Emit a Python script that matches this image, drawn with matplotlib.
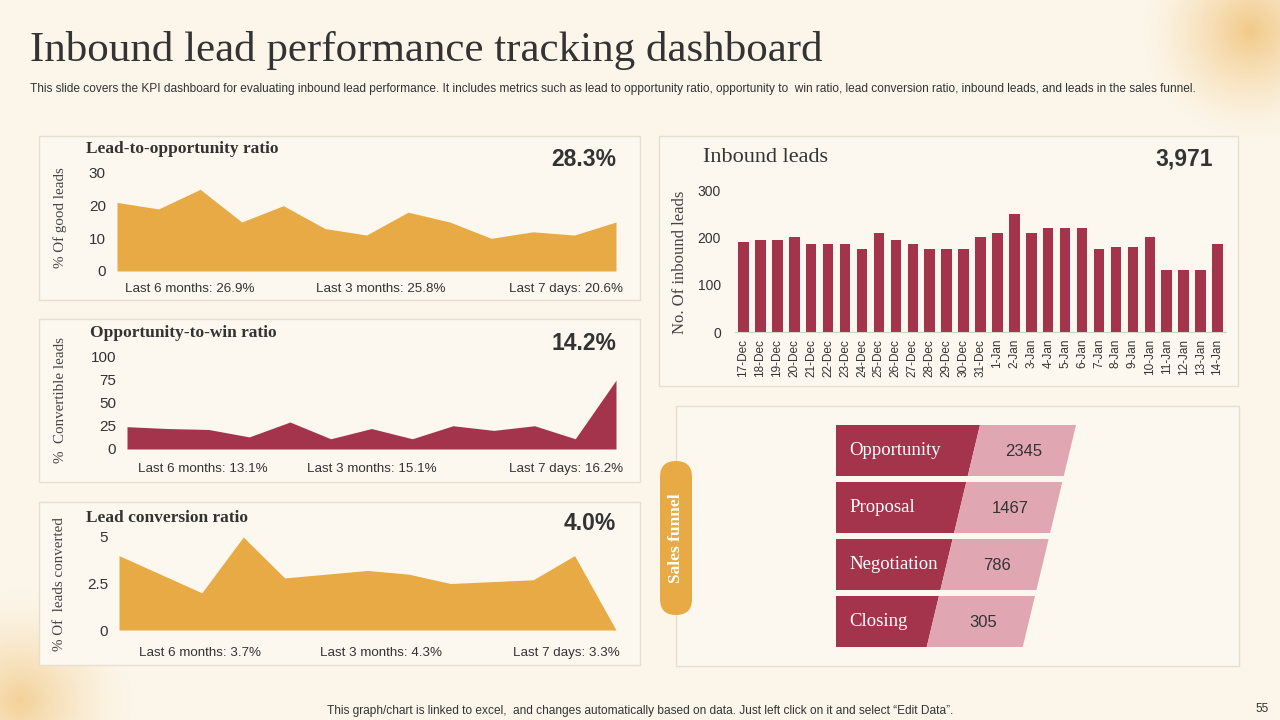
import numpy as np
import matplotlib.pyplot as plt
from matplotlib.patches import Rectangle, Polygon, FancyBboxPatch

# ---- data ----
lead_opp = [21, 19, 25, 15, 20, 13, 11, 18, 15, 10, 12, 11, 15]
opp_win = [24, 22, 21, 13, 29, 11, 22, 11, 25, 20, 25, 11, 74]
lead_conv = [4.0, 3.0, 2.0, 5.0, 2.8, 3.0, 3.2, 3.0, 2.5, 2.6, 2.7, 4.0, 0.0]

days = ['17-Dec', '18-Dec', '19-Dec', '20-Dec', '21-Dec', '22-Dec', '23-Dec', '24-Dec',
        '25-Dec', '26-Dec', '27-Dec', '28-Dec', '29-Dec', '30-Dec', '31-Dec', '1-Jan',
        '2-Jan', '3-Jan', '4-Jan', '5-Jan', '6-Jan', '7-Jan', '8-Jan', '9-Jan', '10-Jan',
        '11-Jan', '12-Jan', '13-Jan', '14-Jan']
inbound = [190, 195, 195, 200, 185, 185, 185, 175, 210, 195, 185, 175, 175, 175, 200,
           210, 250, 210, 220, 220, 220, 175, 180, 180, 200, 130, 130, 130, 185]

stages = ['Opportunity', 'Proposal', 'Negotiation', 'Closing']
stage_vals = [2345, 1467, 786, 305]

kpi_big = ['28.3%', '14.2%', '4.0%']
kpi_sub = [['Last 6 months: 26.9%', 'Last 3 months: 25.8%', 'Last 7 days: 20.6%'],
           ['Last 6 months: 13.1%', 'Last 3 months: 15.1%', 'Last 7 days: 16.2%'],
           ['Last 6 months: 3.7%', 'Last 3 months: 4.3%', 'Last 7 days: 3.3%']]

BG = '#FCF6EA'
ORANGE = '#E8AA45'
CRIMSON = '#A3344C'
PINK = '#E0A6B1'
DARK = '#333333'
SERIF = ['Liberation Serif', 'DejaVu Serif']
SANS = ['Liberation Sans Narrow', 'Liberation Sans', 'DejaVu Sans']

W, H = 1280, 720
fig = plt.figure(figsize=(12.8, 7.2), dpi=100, facecolor=BG)


def px_axes(x0, y0, x1, y1):
    return fig.add_axes([x0 / W, 1 - y1 / H, (x1 - x0) / W, (y1 - y0) / H])


# background layer in pixel coordinates
bg = fig.add_axes([0, 0, 1, 1])
bg.set_xlim(0, W)
bg.set_ylim(H, 0)
bg.axis('off')
bg.set_facecolor(BG)

# soft orange glows in corners
yy, xx = np.mgrid[0:H, 0:W]
glow = np.zeros((H, W, 4))
glow[..., :3] = np.array([235, 172, 70]) / 255
d1 = np.hypot(xx - 1250, yy - 30) / 110
d2 = np.hypot(xx - 20, yy - 700) / 115
glow[..., 3] = 0.6 * np.clip(1 - d1, 0, 1) ** 1.4 + 0.5 * np.clip(1 - d2, 0, 1) ** 1.5
bg.imshow(glow, extent=(0, W, H, 0), zorder=0)

# panels
for (x0, y0, x1, y1) in [(39, 136, 640, 300), (39, 319, 640, 482), (39, 502, 640, 665),
                         (659, 136, 1238, 386), (676, 406, 1239, 666)]:
    bg.add_patch(Rectangle((x0, y0), x1 - x0, y1 - y0, facecolor='#FDF8EF',
                           edgecolor='#E6DED0', lw=1, zorder=1))

bg.text(30, 50, 'Inbound lead performance tracking dashboard', family=SERIF,
        fontsize=31, color=DARK, va='center', ha='left')
bg.text(30, 89, 'This slide covers the KPI dashboard for evaluating inbound lead performance. '
        'It includes metrics such as lead to opportunity ratio, opportunity to  win ratio, '
        'lead conversion ratio, inbound leads, and leads in the sales funnel.',
        family=SANS, fontsize=8.6, color=DARK, va='center', ha='left')
bg.text(640, 711, 'This graph/chart is linked to excel,  and changes automatically based on data. '
        'Just left click on it and select \u201cEdit Data\u201d.',
        family=SANS, fontsize=8.6, color=DARK, va='center', ha='center')
bg.text(1262, 709, '55', family=SANS, fontsize=8.5, color=DARK, va='center', ha='center')

# ---- area charts ----
area_specs = [
    (lead_opp, ORANGE, (117, 173, 616, 271), 30, [0, 10, 20, 30],
     'Lead-to-opportunity ratio', (86, 149), 159, '% Of good leads', 218, 289, [190, 381, 566]),
    (opp_win, CRIMSON, (127, 356, 616, 449), 100, [0, 25, 50, 75, 100],
     'Opportunity-to-win ratio', (90, 333), 343, '%  Convertible leads', 400, 469, [203, 372, 566]),
    (lead_conv, ORANGE, (119, 537, 616, 630), 5, [0, 2.5, 5],
     'Lead conversion ratio', (86, 518), 524, '% Of  leads converted', 584, 653, [200, 381, 566]),
]

for i, (vals, col, box, ymax, ticks, title, tpos, big_y, ylab, ylab_y, sub_y, sub_x) in enumerate(area_specs):
    ax = px_axes(*box)
    x = np.arange(len(vals))
    ax.fill_between(x, vals, 0, color=col, lw=0)
    ax.set_xlim(0, len(vals) - 1)
    ax.set_ylim(0, ymax)
    ax.set_yticks(ticks)
    ax.set_yticklabels([f'{t:g}' for t in ticks], family=SANS, fontsize=11, color=DARK)
    ax.set_xticks([])
    ax.tick_params(axis='y', length=0, pad=8)
    for s in ax.spines.values():
        s.set_visible(False)
    ax.patch.set_alpha(0)
    bg.text(tpos[0], tpos[1], title, family=SERIF, fontsize=12.5, fontweight='bold',
            color=DARK, va='center', ha='left')
    bg.text(616, big_y, kpi_big[i], family=['Liberation Sans', 'DejaVu Sans'], fontsize=16.5,
            fontweight='bold', color=DARK, va='center', ha='right')
    bg.text(60, ylab_y, ylab, family=SERIF, fontsize=10.8, color='#444444', rotation=90,
            va='center', ha='center')
    for sx, st in zip(sub_x, kpi_sub[i]):
        bg.text(sx, sub_y, st, family=SANS, fontsize=9.6, color=DARK, va='center', ha='center')

# ---- bar chart ----
axb = px_axes(735, 190, 1226, 332)
axb.bar(np.arange(len(inbound)), inbound, width=0.62, color=CRIMSON)
axb.set_xlim(-0.5, len(inbound) - 0.5)
axb.set_ylim(0, 300)
axb.set_yticks([0, 100, 200, 300])
axb.set_yticklabels(['0', '100', '200', '300'], family=SANS, fontsize=10, color=DARK)
axb.set_xticks(np.arange(len(days)))
axb.set_xticklabels(days, rotation=90, family=SANS, fontsize=8.5, color=DARK)
axb.tick_params(length=0, pad=5)
axb.tick_params(axis='y', pad=10)
for s in ['top', 'right', 'left']:
    axb.spines[s].set_visible(False)
axb.spines['bottom'].set_color('#D9D2C6')
axb.patch.set_alpha(0)
bg.text(703, 158, 'Inbound leads', family=SERIF, fontsize=16, color=DARK,
        va='center', ha='left')
bg.text(1213, 159, '3,971', family=['Liberation Sans', 'DejaVu Sans'], fontsize=16.5,
        fontweight='bold', color=DARK, va='center', ha='right')
bg.text(680, 262, 'No. Of inbound leads', family=SERIF, fontsize=12, color='#444444',
        rotation=90, va='center', ha='center')

# ---- sales funnel ----
bg.add_patch(FancyBboxPatch((660, 461), 32, 154, boxstyle='round,pad=0,rounding_size=16',
                            facecolor=ORANGE, edgecolor='none', zorder=2))
bg.text(676, 538, 'Sales funnel', family=SERIF, fontsize=12.5, fontweight='bold',
        color='white', rotation=90, va='center', ha='center', zorder=3)

slope = 0.24
left, top0, row_h, gap = 836, 425, 51, 6
for i, (name, v) in enumerate(zip(stages, stage_vals)):
    yt = top0 + i * (row_h + gap)
    yb = yt + row_h
    mid_t = 980 - slope * (yt - top0)
    mid_b = 980 - slope * (yb - top0)
    rt = 1076 - slope * (yt - top0)
    rb = 1076 - slope * (yb - top0)
    bg.add_patch(Polygon([(left, yt), (mid_t, yt), (mid_b, yb), (left, yb)],
                         closed=True, facecolor=CRIMSON, edgecolor='none', zorder=2))
    bg.add_patch(Polygon([(mid_t, yt), (rt, yt), (rb, yb), (mid_b, yb)],
                         closed=True, facecolor=PINK, edgecolor='none', zorder=2))
    bg.text(849, (yt + yb) / 2, name, family=SERIF, fontsize=13.5, color='white',
            va='center', ha='left', zorder=3)
    bg.text((mid_t + mid_b + rt + rb) / 4 + 2, (yt + yb) / 2 + 1, str(v), family=SANS,
            fontsize=12, color=DARK, va='center', ha='center', zorder=3)

fig.savefig('out.png', dpi=100, facecolor=BG)
